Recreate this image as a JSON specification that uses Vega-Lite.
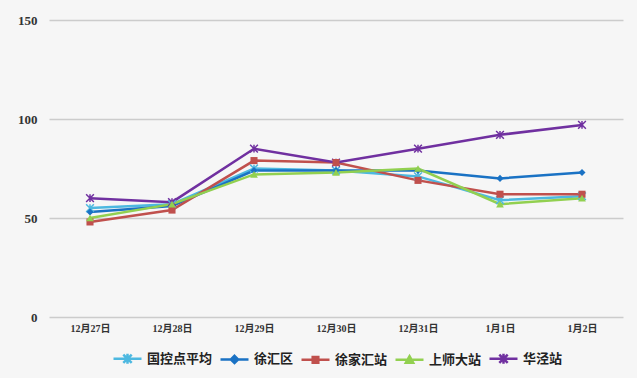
{
  "$schema": "https://vega.github.io/schema/vega-lite/v6.json",
  "width": 574,
  "height": 297,
  "autosize": {"type": "none"},
  "padding": {"left": 49, "top": 20, "right": 14, "bottom": 61},
  "background": "#f6f6f6",
  "config": {
    "view": {"stroke": null, "fill": "#f6f6f6"},
    "font": "Liberation Serif"
  },
  "data": {
    "values": [
      {"date": "12月27日", "series": "国控点平均", "value": 55},
      {"date": "12月28日", "series": "国控点平均", "value": 57},
      {"date": "12月29日", "series": "国控点平均", "value": 75},
      {"date": "12月30日", "series": "国控点平均", "value": 74},
      {"date": "12月31日", "series": "国控点平均", "value": 71},
      {"date": "1月1日", "series": "国控点平均", "value": 59},
      {"date": "1月2日", "series": "国控点平均", "value": 61},
      {"date": "12月27日", "series": "徐汇区", "value": 53},
      {"date": "12月28日", "series": "徐汇区", "value": 56},
      {"date": "12月29日", "series": "徐汇区", "value": 74},
      {"date": "12月30日", "series": "徐汇区", "value": 74},
      {"date": "12月31日", "series": "徐汇区", "value": 74},
      {"date": "1月1日", "series": "徐汇区", "value": 70},
      {"date": "1月2日", "series": "徐汇区", "value": 73},
      {"date": "12月27日", "series": "徐家汇站", "value": 48},
      {"date": "12月28日", "series": "徐家汇站", "value": 54},
      {"date": "12月29日", "series": "徐家汇站", "value": 79},
      {"date": "12月30日", "series": "徐家汇站", "value": 78},
      {"date": "12月31日", "series": "徐家汇站", "value": 69},
      {"date": "1月1日", "series": "徐家汇站", "value": 62},
      {"date": "1月2日", "series": "徐家汇站", "value": 62},
      {"date": "12月27日", "series": "上师大站", "value": 50},
      {"date": "12月28日", "series": "上师大站", "value": 57},
      {"date": "12月29日", "series": "上师大站", "value": 72},
      {"date": "12月30日", "series": "上师大站", "value": 73},
      {"date": "12月31日", "series": "上师大站", "value": 75},
      {"date": "1月1日", "series": "上师大站", "value": 57},
      {"date": "1月2日", "series": "上师大站", "value": 60},
      {"date": "12月27日", "series": "华泾站", "value": 60},
      {"date": "12月28日", "series": "华泾站", "value": 58},
      {"date": "12月29日", "series": "华泾站", "value": 85},
      {"date": "12月30日", "series": "华泾站", "value": 78},
      {"date": "12月31日", "series": "华泾站", "value": 85},
      {"date": "1月1日", "series": "华泾站", "value": 92},
      {"date": "1月2日", "series": "华泾站", "value": 97}
    ]
  },
  "encoding": {
    "x": {
      "field": "date",
      "type": "nominal",
      "sort": ["12月27日", "12月28日", "12月29日", "12月30日", "12月31日", "1月1日", "1月2日"],
      "scale": {"type": "point", "padding": 0.5},
      "axis": {
        "title": null,
        "domain": false,
        "ticks": false,
        "labelAngle": 0,
        "labelFont": "Liberation Serif, Noto Sans CJK SC",
        "labelFontWeight": "bold",
        "labelFontSize": 10,
        "labelColor": "#333333",
        "labelPadding": 6
      }
    },
    "y": {
      "field": "value",
      "type": "quantitative",
      "scale": {"domain": [0, 150]},
      "axis": {
        "title": null,
        "values": [0, 50, 100, 150],
        "domain": false,
        "ticks": false,
        "labelFont": "Liberation Serif",
        "labelFontWeight": "bold",
        "labelFontSize": 13,
        "labelColor": "#333333",
        "labelPadding": 12,
        "gridColor": "#cccccc",
        "gridWidth": 1.5
      }
    },
    "color": {
      "field": "series",
      "type": "nominal",
      "sort": ["国控点平均", "徐汇区", "徐家汇站", "上师大站", "华泾站"],
      "scale": {
        "domain": ["国控点平均", "徐汇区", "徐家汇站", "上师大站", "华泾站"],
        "range": ["#4db8e0", "#1a72c4", "#c0504d", "#92d050", "#7030a0"]
      },
      "legend": {
        "title": null,
        "orient": "none",
        "direction": "horizontal",
        "legendX": 63,
        "legendY": 323,
        "labelFont": "Noto Sans CJK SC",
        "labelFontWeight": "bold",
        "labelFontSize": 13,
        "labelColor": "#222222",
        "labelOffset": 4,
        "symbolSize": 784,
        "columnPadding": 2,
        "symbolStrokeWidth": 2.5,
        "encode": {
          "symbols": {
            "update": {
              "shape": {"signal": "datum.value === '国控点平均' || datum.value === '华泾站' ? 'M-1,0L1,0M-0.3,-0.3L0.3,0.3M-0.3,0.3L0.3,-0.3M0,-0.36L0,0.36' : datum.value === '徐汇区' ? 'M-1,0L1,0M0,-0.26L0.26,0L0,0.26L-0.26,0Z' : datum.value === '徐家汇站' ? 'M-1,0L1,0M-0.2,-0.2L0.2,-0.2L0.2,0.2L-0.2,0.2Z' : 'M-1,0L1,0M0,-0.26L0.26,0.2L-0.26,0.2Z'"},
              "stroke": {"scale": "color", "field": "value"},
              "fill": {"scale": "color", "field": "value"},
              "strokeWidth": {"value": 2.5},
              "opacity": {"value": 1}
            }
          }
        }
      }
    }
  },
  "layer": [
    {
      "mark": {"type": "line", "strokeWidth": 2.5}
    },
    {
      "transform": [{"filter": "datum.series === '国控点平均' || datum.series === '华泾站'"}],
      "mark": {"type": "point", "filled": false, "size": 60, "strokeWidth": 1.5, "opacity": 1, "shape": "M-1,-1L1,1M-1,1L1,-1M0,-1L0,1"}
    },
    {
      "transform": [{"filter": "datum.series === '徐汇区'"}],
      "mark": {"type": "point", "filled": true, "size": 50, "opacity": 1, "shape": "diamond"}
    },
    {
      "transform": [{"filter": "datum.series === '徐家汇站'"}],
      "mark": {"type": "point", "filled": true, "size": 50, "opacity": 1, "shape": "square"}
    },
    {
      "transform": [{"filter": "datum.series === '上师大站'"}],
      "mark": {"type": "point", "filled": true, "size": 60, "opacity": 1, "shape": "triangle-up"}
    }
  ]
}
